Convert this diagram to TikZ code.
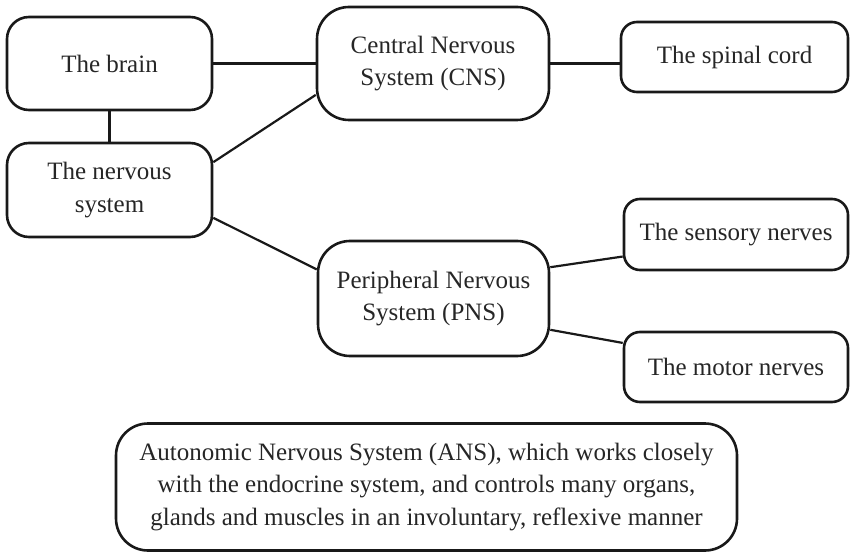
\documentclass[tikz,border=0pt]{standalone}
\usepackage{fontspec}
\setmainfont{Liberation Serif}
\begin{document}
\begin{tikzpicture}[x=1pt,y=-1pt,
  box/.style={draw=black!90, line width=2.6pt, rounded corners=#1, inner sep=0pt, align=center,
    font=\fontsize{25}{32.5}\selectfont, text=black!85},
  box/.default=22pt,
  link/.style={draw=black!90, line width=2.2pt}]
\useasboundingbox (0,0) rectangle (850,553);
\node[box, minimum width=205pt, minimum height=93pt] (brain) at (109.5,63.5) {The brain};
\node[box, minimum width=205pt, minimum height=94pt] (nervous) at (109.5,190) {The nervous\\system};
\node[box=32pt, minimum width=232pt, minimum height=113pt] (cns) at (433,63.5) {Central Nervous\\System (CNS)};
\node[box=16pt, minimum width=227pt, minimum height=70pt] (spinal) at (734.5,57) {The spinal cord};
\node[box=32pt, minimum width=231pt, minimum height=115pt] (pns) at (433.5,298.5) {Peripheral Nervous\\System (PNS)};
\node[box=16pt, minimum width=224pt, minimum height=71pt] (sensory) at (736,234.5) {The sensory nerves};
\node[box=16pt, minimum width=224pt, minimum height=70pt] (motor) at (736,367) {The motor nerves};
\node[box=32pt, minimum width=621pt, minimum height=127pt] (ans) at (426.5,487) {Autonomic Nervous System (ANS), which works closely\\with the endocrine system, and controls many organs,\\glands and muscles in an involuntary, reflexive manner};
\draw[link] (brain.east) -- (brain.east -| cns.west);
\draw[link] (brain) -- (nervous);
\draw[link] (nervous.15) -- (cns.195);
\draw[link] (nervous.345) -- (pns.166);
\draw[link] (cns.east) -- (cns.east -| spinal.west);
\draw[link] (pns.15) -- (sensory.191);
\draw[link] (pns.345) -- (motor.168);
\end{tikzpicture}
\end{document}
